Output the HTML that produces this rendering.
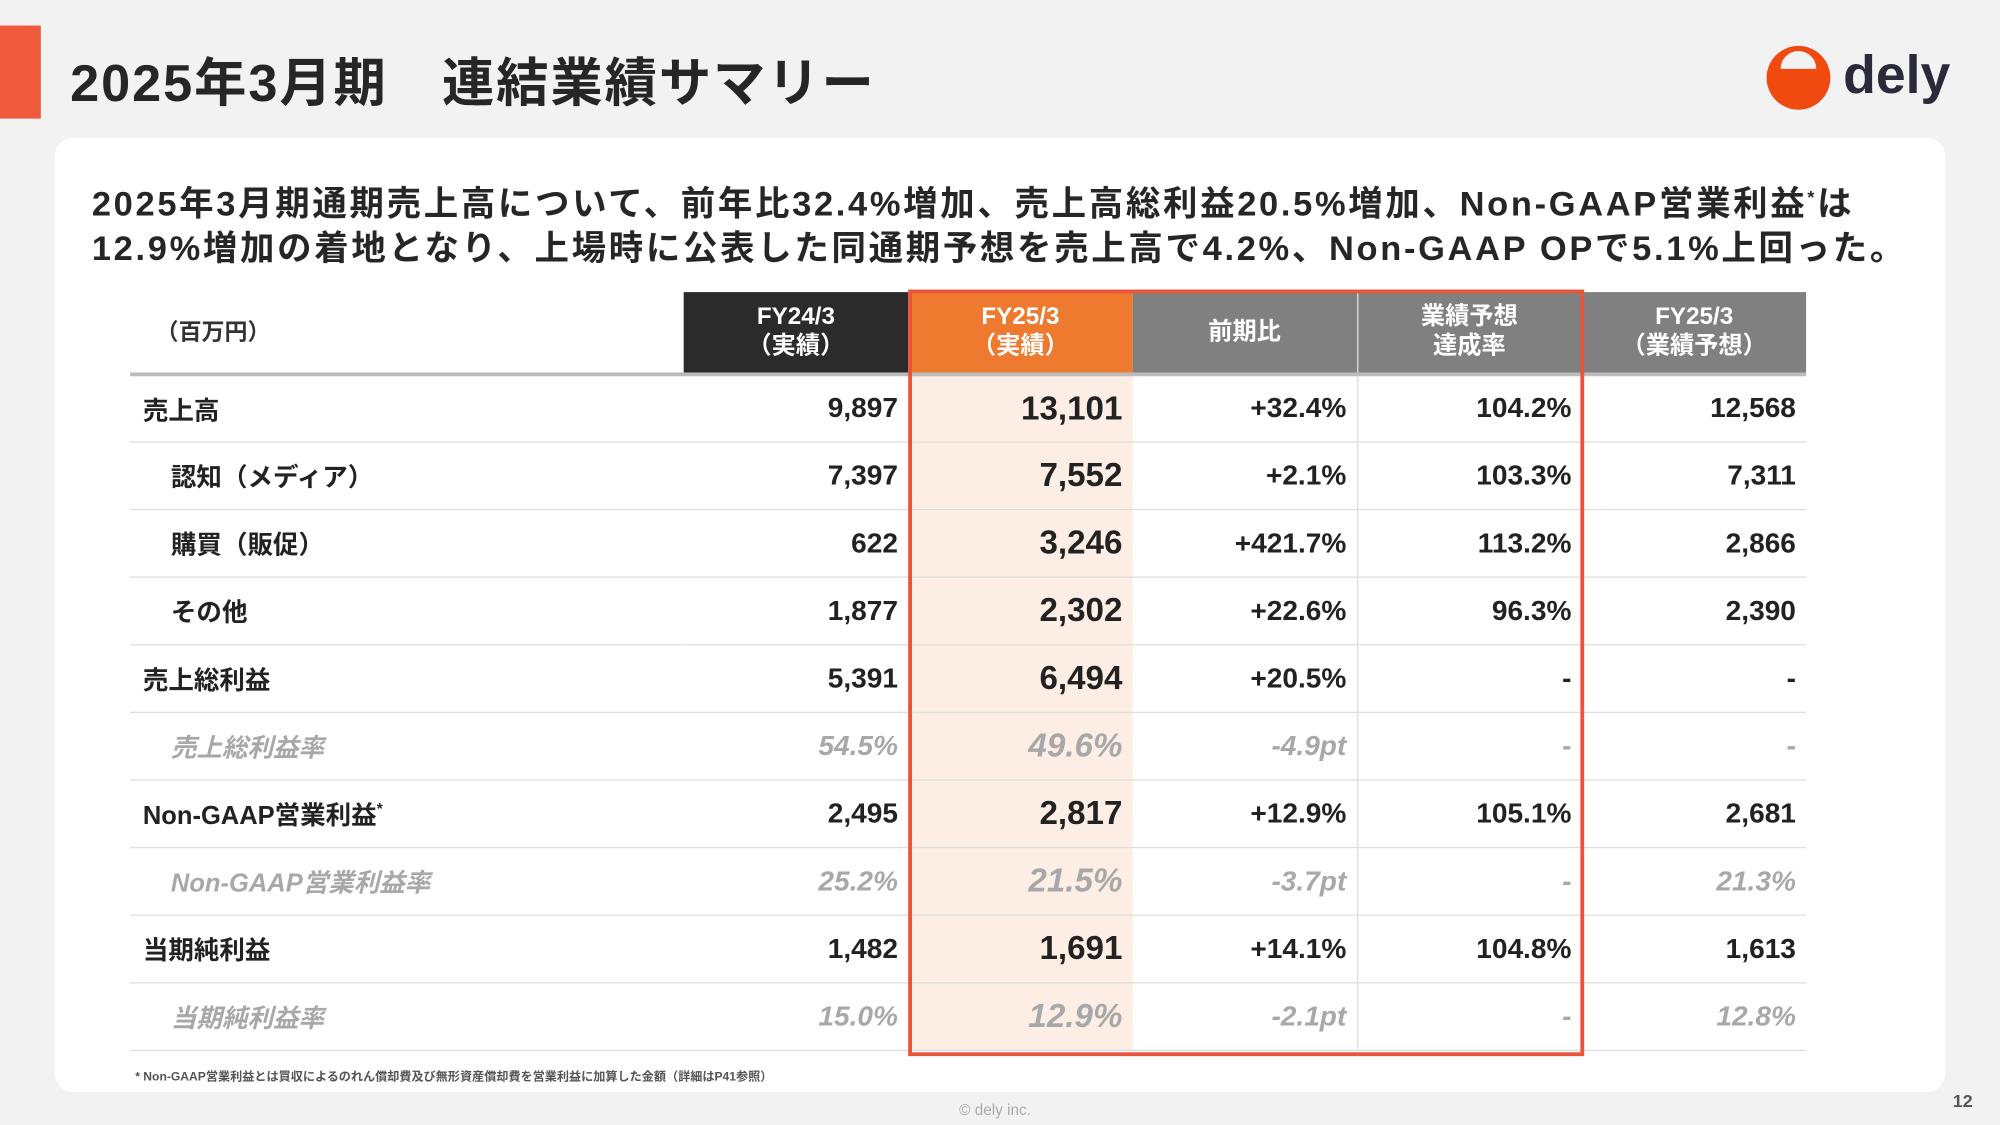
<!DOCTYPE html>
<html><head><meta charset="utf-8"><style>
body{margin:0;width:2000px;height:1125px;overflow:hidden;background:#f2f2f2;}
#s{position:absolute;left:0;top:0;width:1568px;height:882px;transform:scale(1.27551);transform-origin:0 0;font-family:"Liberation Sans","Noto Sans CJK JP",sans-serif;color:#222;}
.a{position:absolute;}
table{position:absolute;left:102px;top:229px;border-collapse:collapse;table-layout:fixed;}
td,th{padding:0 8px;height:53px;border-bottom:1.5px solid #ddd;font-weight:bold;font-size:22px;text-align:right;box-sizing:border-box;}
th{height:64px;color:#fff;font-size:19px;text-align:center;line-height:23px;border-bottom:3px solid #bbb;}
td.l{text-align:left;padding-left:10px;font-size:20px;}
td.l2{padding-left:32px;}
td.c2{background:#fdeee5;font-size:26px;}
td.c3,th.c3{border-right:1px solid #ddd;}
tr.i td{font-style:italic;color:#a8a8a8;font-weight:bold;}
</style></head><body><div id="s">
<div class="a" style="left:0;top:20px;width:32px;height:73px;background:#f05a3c"></div>
<div class="a" style="left:55px;top:31px;font-size:41px;font-weight:bold;color:#262626;letter-spacing:1.5px">2025年3月期　連結業績サマリー</div>
<div class="a" style="left:1385px;top:36px;width:50px;height:50px;border-radius:50%;background:#f04a10"></div>
<div class="a" style="left:1396px;top:40px;width:28px;height:28px;border-radius:50%;background:#f2f2f2;clip-path:inset(0 0 50% 0)"></div>
<div class="a" style="left:1445px;top:35px;font-size:42px;font-weight:bold;color:#2a2a3a">dely</div>
<div class="a" style="left:43px;top:108px;width:1482px;height:748px;background:#fff;border-radius:14px"></div>
<div class="a" style="left:72px;top:137px;font-size:27px;font-weight:bold;line-height:35px;color:#262626;white-space:nowrap;letter-spacing:2.1px">2025年3月期通期売上高について、前年比32.4%増加、売上高総利益20.5%増加、Non-GAAP営業利益<sup style="font-size:14px">*</sup>は<br>12.9%増加の着地となり、上場時に公表した同通期予想を売上高で4.2%、Non-GAAP OPで5.1%上回った。</div>
<table>
<colgroup><col style="width:434px"><col style="width:176px"><col style="width:176px"><col style="width:176px"><col style="width:176px"><col style="width:176px"></colgroup>
<tr><th style="background:#fff;color:#333;text-align:left;padding-left:20px;font-size:18px">（百万円）</th><th style="background:#2b2b2b">FY24/3<br>（実績）</th><th style="background:#ee7a2f">FY25/3<br>（実績）</th><th class="c3" style="background:#808080">前期比</th><th style="background:#808080">業績予想<br>達成率</th><th style="background:#808080;border-left:1px solid #999">FY25/3<br>（業績予想）</th></tr>
<tr><td class="l">売上高</td><td>9,897</td><td class="c2">13,101</td><td class="c3">+32.4%</td><td>104.2%</td><td>12,568</td></tr>
<tr><td class="l l2">認知（メディア）</td><td>7,397</td><td class="c2">7,552</td><td class="c3">+2.1%</td><td>103.3%</td><td>7,311</td></tr>
<tr><td class="l l2">購買（販促）</td><td>622</td><td class="c2">3,246</td><td class="c3">+421.7%</td><td>113.2%</td><td>2,866</td></tr>
<tr><td class="l l2">その他</td><td>1,877</td><td class="c2">2,302</td><td class="c3">+22.6%</td><td>96.3%</td><td>2,390</td></tr>
<tr><td class="l">売上総利益</td><td>5,391</td><td class="c2">6,494</td><td class="c3">+20.5%</td><td>-</td><td>-</td></tr>
<tr class="i"><td class="l l2">売上総利益率</td><td>54.5%</td><td class="c2">49.6%</td><td class="c3">-4.9pt</td><td>-</td><td>-</td></tr>
<tr><td class="l">Non-GAAP営業利益<sup style="font-size:12px">*</sup></td><td>2,495</td><td class="c2">2,817</td><td class="c3">+12.9%</td><td>105.1%</td><td>2,681</td></tr>
<tr class="i"><td class="l l2">Non-GAAP営業利益率</td><td>25.2%</td><td class="c2">21.5%</td><td class="c3">-3.7pt</td><td>-</td><td>21.3%</td></tr>
<tr><td class="l">当期純利益</td><td>1,482</td><td class="c2">1,691</td><td class="c3">+14.1%</td><td>104.8%</td><td>1,613</td></tr>
<tr class="i"><td class="l l2">当期純利益率</td><td>15.0%</td><td class="c2">12.9%</td><td class="c3">-2.1pt</td><td>-</td><td>12.8%</td></tr>
</table>
<div class="a" style="left:712px;top:227px;width:530px;height:601px;border:3px solid #e8553a;box-sizing:border-box"></div>
<div class="a" style="left:106px;top:836px;font-size:9.5px;color:#555;font-weight:bold">* Non-GAAP営業利益とは買収によるのれん償却費及び無形資産償却費を営業利益に加算した金額（詳細はP41参照）</div>
<div class="a" style="left:752px;top:863px;font-size:12px;color:#aaa">© dely inc.</div>
<div class="a" style="left:1531px;top:855px;font-size:14px;color:#555;font-weight:bold">12</div>
</div></body></html>
